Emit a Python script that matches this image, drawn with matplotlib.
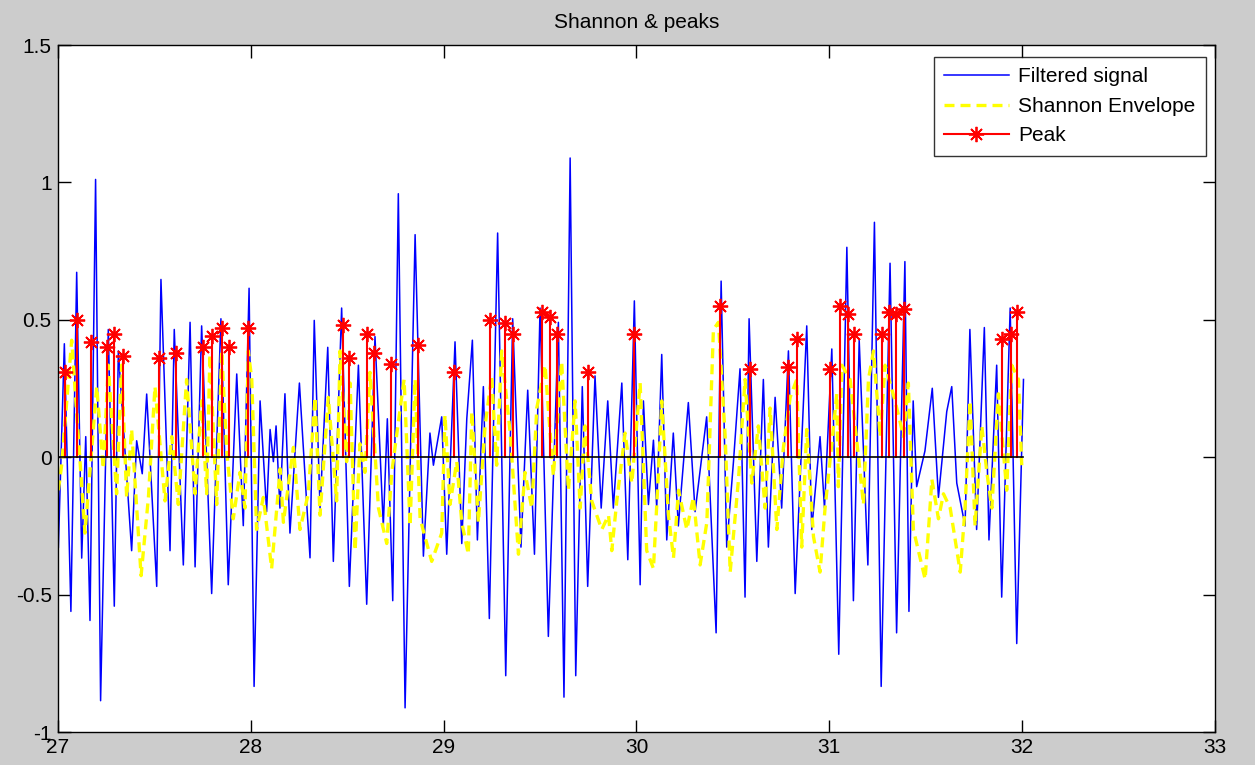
import matplotlib
matplotlib.use("Agg")
import numpy as np
import matplotlib.pyplot as plt

# filtered signal (local extrema only)
sig_t = [27.002, 27.033, 27.067, 27.097, 27.123, 27.144, 27.166, 27.195, 27.221, 27.261,
         27.292, 27.313, 27.382, 27.408, 27.437, 27.460, 27.512, 27.534, 27.581, 27.603,
         27.650, 27.685, 27.711, 27.745, 27.797, 27.845, 27.883, 27.927, 27.961, 27.991,
         28.017, 28.048, 28.082, 28.100, 28.117, 28.131, 28.151, 28.177, 28.203, 28.252,
         28.307, 28.329, 28.359, 28.399, 28.428, 28.471, 28.511, 28.558, 28.601, 28.644,
         28.687, 28.708, 28.736, 28.765, 28.800, 28.852, 28.895, 28.929, 28.947, 28.990,
         29.016, 29.059, 29.094, 29.120, 29.149, 29.175, 29.206, 29.237, 29.280, 29.322,
         29.358, 29.401, 29.436, 29.471, 29.500, 29.543, 29.595, 29.624, 29.656, 29.685,
         29.719, 29.747, 29.785, 29.817, 29.851, 29.880, 29.924, 29.955, 29.989, 30.019,
         30.036, 30.062, 30.088, 30.105, 30.131, 30.157, 30.191, 30.217, 30.269, 30.304,
         30.364, 30.413, 30.439, 30.468, 30.503, 30.537, 30.563, 30.584, 30.624, 30.658,
         30.684, 30.719, 30.753, 30.788, 30.823, 30.883, 30.909, 30.952, 30.975, 31.013,
         31.049, 31.091, 31.125, 31.155, 31.200, 31.234, 31.269, 31.315, 31.349, 31.392,
         31.413, 31.435, 31.453, 31.496, 31.534, 31.566, 31.609, 31.635, 31.661, 31.704,
         31.729, 31.764, 31.804, 31.828, 31.868, 31.894, 31.938, 31.972, 32.007]
sig_v = [-0.328, 0.413, -0.561, 0.673, -0.367, 0.075, -0.594, 1.011, -0.886, 0.465,
         -0.542, 0.387, -0.340, 0.060, -0.060, 0.230, -0.470, 0.647, -0.340, 0.465,
         -0.392, 0.491, -0.399, 0.478, -0.496, 0.504, -0.464, 0.303, -0.249, 0.615,
         -0.834, 0.205, -0.198, 0.101, -0.016, 0.114, -0.185, 0.231, -0.276, 0.270,
         -0.366, 0.498, -0.185, 0.400, -0.379, 0.543, -0.470, 0.335, -0.535, 0.439,
         -0.250, 0.140, -0.522, 0.959, -0.912, 0.810, -0.360, 0.088, -0.029, 0.147,
         -0.353, 0.420, -0.314, 0.140, 0.426, -0.301, 0.257, -0.587, 0.816, -0.795,
         0.504, -0.327, 0.244, -0.353, 0.543, -0.652, 0.491, -0.873, 1.089, -0.795,
         0.257, -0.470, 0.296, -0.185, 0.205, -0.185, 0.270, -0.373, 0.569, -0.464,
         0.205, -0.172, 0.062, -0.185, 0.374, -0.301, 0.088, -0.250, 0.199, -0.198,
         0.147, -0.639, 0.641, -0.327, -0.016, 0.322, -0.509, 0.504, -0.379, 0.283,
         -0.327, 0.218, -0.185, 0.387, -0.496, 0.478, -0.263, 0.075, -0.185, 0.394,
         -0.717, 0.764, -0.522, 0.426, -0.392, 0.855, -0.834, 0.706, -0.639, 0.712,
         -0.561, 0.205, -0.107, 0.023, 0.251, -0.146, 0.166, 0.257, -0.094, -0.250,
         0.465, -0.263, 0.472, -0.301, 0.335, -0.509, 0.543, -0.678, 0.283]

# Shannon envelope
env_t = [27.002, 27.019, 27.071, 27.140, 27.201, 27.235, 27.261, 27.304, 27.330, 27.356,
         27.382, 27.431, 27.469, 27.503, 27.555, 27.590, 27.624, 27.667, 27.711, 27.745,
         27.771, 27.788, 27.823, 27.849, 27.875, 27.909, 27.944, 27.970, 27.987, 28.005,
         28.030, 28.065, 28.108, 28.152, 28.169, 28.221, 28.255, 28.298, 28.333, 28.359,
         28.402, 28.445, 28.463, 28.497, 28.515, 28.541, 28.566, 28.592, 28.618, 28.662,
         28.705, 28.731, 28.765, 28.795, 28.826, 28.852, 28.878, 28.938, 28.990, 29.007,
         29.033, 29.068, 29.094, 29.128, 29.146, 29.180, 29.215, 29.249, 29.275, 29.301,
         29.345, 29.388, 29.422, 29.457, 29.483, 29.526, 29.569, 29.612, 29.647, 29.682,
         29.708, 29.733, 29.768, 29.820, 29.855, 29.872, 29.898, 29.941, 29.976, 30.019,
         30.053, 30.088, 30.114, 30.131, 30.166, 30.192, 30.218, 30.261, 30.295, 30.330,
         30.365, 30.399, 30.425, 30.460, 30.486, 30.529, 30.563, 30.598, 30.632, 30.667,
         30.693, 30.728, 30.762, 30.797, 30.831, 30.857, 30.883, 30.918, 30.952, 30.978,
         31.013, 31.039, 31.047, 31.065, 31.108, 31.160, 31.177, 31.203, 31.229, 31.264,
         31.289, 31.341, 31.385, 31.410, 31.436, 31.497, 31.532, 31.566, 31.592, 31.627,
         31.679, 31.704, 31.730, 31.756, 31.791, 31.817, 31.843, 31.877, 31.920, 31.946,
         31.981, 31.998]
env_v = [-0.120, -0.029, 0.426, -0.276, 0.257, -0.042, 0.335, -0.133, 0.335, -0.146,
         0.101, -0.431, -0.146, 0.257, -0.159, 0.075, -0.172, 0.283, -0.133, 0.205,
         -0.133, 0.374, -0.172, 0.387, 0.023, -0.224, -0.055, -0.185, 0.387, 0.283,
         -0.263, -0.146, -0.405, -0.042, -0.237, 0.036, -0.263, -0.133, 0.218, -0.211,
         0.218, -0.159, 0.387, -0.016, 0.270, -0.340, 0.049, -0.055, 0.309, -0.185,
         -0.314, -0.055, 0.127, 0.283, -0.250, 0.283, -0.224, -0.379, -0.276, 0.153,
         -0.172, -0.016, -0.237, -0.353, 0.166, -0.237, 0.114, 0.296, -0.029, 0.387,
         0.088, -0.353, -0.055, -0.185, 0.179, 0.335, -0.068, 0.348, -0.120, 0.205,
         -0.185, 0.114, -0.159, -0.263, -0.211, -0.340, -0.159, 0.088, -0.094, 0.270,
         -0.340, -0.405, -0.055, 0.205, -0.211, -0.366, -0.120, -0.263, -0.146, -0.392,
         -0.237, 0.465, 0.491, 0.075, -0.418, -0.081, 0.283, -0.094, 0.114, -0.185,
         0.179, -0.263, 0.036, 0.218, 0.283, -0.327, 0.101, -0.289, -0.418, -0.185,
         0.049, 0.231, -0.107, 0.335, 0.283, -0.055, -0.172, 0.283, 0.387, 0.075,
         0.335, 0.205, 0.075, 0.270, -0.263, -0.444, -0.081, -0.224, -0.133, -0.185,
         -0.418, -0.185, 0.205, -0.250, 0.114, -0.055, -0.185, 0.231, -0.120, 0.335,
         0.283, -0.029]

# detected peaks
peak_t = [27.036, 27.097, 27.171, 27.252, 27.292, 27.339, 27.526, 27.610, 27.750, 27.800,
          27.849, 27.887, 27.987, 28.477, 28.511, 28.601, 28.639, 28.729, 28.865, 29.055,
          29.241, 29.318, 29.362, 29.509, 29.552, 29.590, 29.747, 29.989, 30.434, 30.589,
          30.788, 30.831, 31.004, 31.053, 31.096, 31.130, 31.272, 31.310, 31.345, 31.389,
          31.894, 31.943, 31.972]
peak_v = [0.31, 0.50, 0.42, 0.40, 0.45, 0.37, 0.36, 0.38, 0.40, 0.44,
          0.47, 0.40, 0.47, 0.48, 0.36, 0.45, 0.38, 0.34, 0.41, 0.31,
          0.50, 0.49, 0.45, 0.53, 0.51, 0.45, 0.31, 0.45, 0.55, 0.32,
          0.33, 0.43, 0.32, 0.55, 0.52, 0.45, 0.45, 0.53, 0.52, 0.54,
          0.43, 0.45, 0.53]

xticks = [27, 28, 29, 30, 31, 32, 33]
yticks = [-1, -0.5, 0, 0.5, 1, 1.5]
ytick_labels = ['-1', '-0.5', '0', '0.5', '1', '1.5']

plt.rcParams['font.family'] = ['Liberation Sans', 'DejaVu Sans']

fig = plt.figure(figsize=(12.55, 7.65), dpi=100, facecolor='#cccccc')
ax = fig.add_axes([0.0462, 0.0431, 0.9219, 0.8980])
ax.set_facecolor('white')

ax.plot(sig_t, sig_v, color='#0000ff', lw=1.1, label='Filtered signal')
ax.plot(env_t, env_v, color='#ffff00', lw=2.4, dashes=(3.0, 1.8), label='Shannon Envelope')

# stems: 0 -> peak -> gap
n = len(peak_t)
stem_t = np.repeat(peak_t, 3).astype(float)
stem_v = np.column_stack([np.zeros(n), peak_v, np.full(n, np.nan)]).ravel()
stem_t[2::3] = np.nan
ax.plot(stem_t, stem_v, color='#ff0000', lw=1.5, marker=(8, 2, 0), ms=11, mew=1.3,
        markevery=list(range(1, 3 * n, 3)), label='Peak')

ax.plot([sig_t[0], sig_t[-1]], [0, 0], color='black', lw=1.2)

ax.set_xlim(27, 33)
ax.set_ylim(-1, 1.5)
ax.set_xticks(xticks)
ax.set_xticklabels([str(v) for v in xticks])
ax.set_yticks(yticks)
ax.set_yticklabels(ytick_labels)
ax.tick_params(direction='in', length=9, width=1, top=True, right=True,
               labelsize=15, pad=4.5)
for s in ax.spines.values():
    s.set_linewidth(1.0)
ax.set_title('Shannon & peaks', fontsize=15, pad=12)

leg = ax.legend(loc='upper right', bbox_to_anchor=(0.992, 0.9825), borderaxespad=0,
                fontsize=15, frameon=True, fancybox=False, edgecolor='black',
                handlelength=3.1, handletextpad=0.45, labelspacing=0.5,
                borderpad=0.5)
leg.get_frame().set_linewidth(1.0)

fig.savefig('out.png', dpi=100, facecolor=fig.get_facecolor())
